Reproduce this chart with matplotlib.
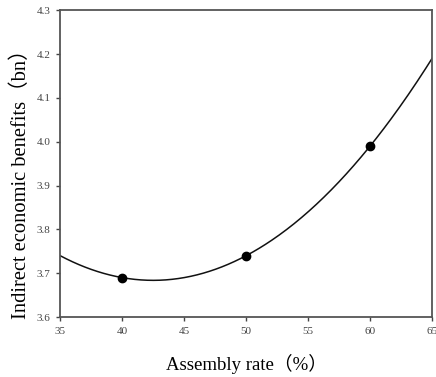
import numpy as np
import matplotlib
matplotlib.use("Agg")
import matplotlib.pyplot as plt

plt.rcParams['font.family'] = ['Liberation Serif', 'DejaVu Serif']

# Data
assembly_rate = [40, 50, 60]
benefits = [3.69, 3.74, 3.99]
x_ticks = [35, 40, 45, 50, 55, 60, 65]
y_ticks = [3.6, 3.7, 3.8, 3.9, 4.0, 4.1, 4.2, 4.3]

# Quadratic regression curve fitted to the data points
coef = np.polyfit(assembly_rate, benefits, 2)
xs = np.linspace(35, 65, 300)
ys = np.polyval(coef, xs)

fig = plt.figure(figsize=(4.36, 3.77), dpi=100)
ax = fig.add_axes([0.138, 0.159, 0.853, 0.814])

ax.plot(xs, ys, color='#111111', lw=1.1)
ax.plot(assembly_rate, benefits, 'o', color='black', ms=6)

ax.set_xlim(35, 65)
ax.set_ylim(3.6, 4.3)
ax.set_xticks(x_ticks)
ax.set_yticks(y_ticks)
ax.set_xticklabels([str(v) for v in x_ticks])
ax.set_yticklabels([f"{v:.1f}" for v in y_ticks])
ax.tick_params(axis='both', direction='out', length=3, width=1, color='#444444',
               labelsize=8, labelcolor='#444444', pad=4)
for s in ax.spines.values():
    s.set_color('#555555')
    s.set_linewidth(1.3)

ax.set_xlabel('Assembly rate（%）', fontsize=13.5, labelpad=13,
              family=['Liberation Serif', 'Noto Sans CJK SC'])
ax.set_ylabel('Indirect economic benefits（bn）', fontsize=14.8,
              family=['Liberation Serif', 'Noto Sans CJK SC'])
ax.yaxis.set_label_coords(-0.078, 0.45)

fig.savefig('out.png', dpi=100)
